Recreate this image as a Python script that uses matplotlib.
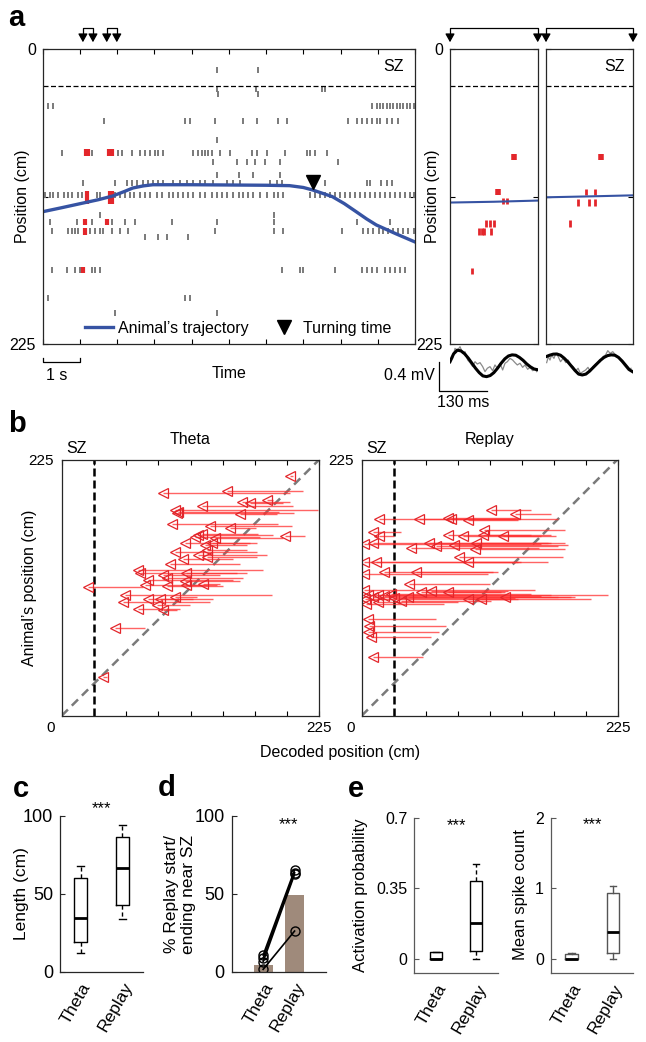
import numpy as np
import matplotlib.pyplot as plt
import matplotlib.transforms as mtransforms
from matplotlib.lines import Line2D

plt.rcParams['font.family'] = ['Liberation Sans', 'DejaVu Sans']
plt.rcParams['font.size'] = 11.5
plt.rcParams['axes.edgecolor'] = '#262626'
plt.rcParams['axes.linewidth'] = 0.9

SZ = 28.125  # start zone boundary (cm)

# ---- panel a: spike raster (time s, field position cm) ----
raster_rows = [16, 30, 34, 43, 54.5, 69, 79, 86, 96, 102, 111, 126.5, 132, 139, 143, 168.5, 190, 201]
raster_times = [
    [4.69, 5.79],
    [4.67, 5.74, 7.49, 7.58],
    [4.72, 5.79],
    [0.15, 0.29, 8.84, 8.97, 9.06, 9.15, 9.24, 9.33, 9.42, 9.51, 9.6, 9.69, 9.78, 9.87, 9.96],
    [1.65, 3.82, 3.96, 4.63, 5.39, 5.75, 6.33, 6.55, 8.21, 8.43, 8.57, 8.70, 8.84, 8.97, 9.06, 9.24, 9.37, 9.55],
    [4.69],
    [0.51, 1.32, 2.03, 2.12, 2.39, 2.61, 2.75, 2.88, 3.02, 3.11, 3.24, 4.05, 4.18, 4.27, 4.36, 4.45, 4.54,
     4.76, 5.03, 5.61, 5.75, 6.02, 6.51, 7.09, 7.18, 7.31, 7.63],
    [4.58, 5.21, 5.48, 5.70, 5.97, 6.37, 7.94],
    [4.69, 5.26, 5.66, 6.37],
    [1.07, 1.94, 2.26, 2.39, 2.52, 2.70, 2.84, 2.97, 3.11, 3.24, 3.51, 3.69, 3.87, 4.05, 4.23, 4.36, 4.58,
     4.94, 5.12, 5.30, 6.11, 6.28, 6.42, 7.58, 8.70, 8.79, 9.10, 9.24, 9.37],
    [0.06, 0.20, 0.29, 0.42, 0.56, 0.69, 0.78, 0.96, 1.05, 1.45, 1.54, 1.94, 2.08, 2.21, 2.35, 2.44, 2.61,
     2.75, 2.88, 3.06, 3.20, 3.38, 3.51, 3.64, 3.78, 3.91, 4.05, 4.23, 4.36, 4.54, 4.67, 4.81, 4.94, 5.12,
     5.26, 5.39, 5.52, 5.66, 5.84, 6.02, 6.20, 6.33, 6.46, 7.18, 7.31, 7.45, 7.58, 7.72, 7.85, 7.99, 8.12,
     8.25, 8.39, 8.52, 8.66, 8.79, 8.93, 9.06, 9.19, 9.33, 9.46, 9.60, 9.73, 9.87, 9.96],
    [1.54, 6.20],
    [0.20, 0.91, 1.32, 1.85, 2.21, 2.48, 3.46, 4.67, 6.20, 8.43, 9.33],
    [0.24, 0.69, 0.78, 0.87, 0.96, 1.27, 1.41, 1.54, 1.63, 1.85, 2.08, 2.30, 4.63, 6.20, 6.46, 8.03, 8.61,
     8.75, 8.88, 9.02, 9.15, 9.28, 9.42, 9.55, 9.69, 9.82, 9.96],
    [2.75, 3.11, 3.33, 3.91],
    [0.24, 0.64, 0.87, 1.00, 1.32, 1.41, 1.54, 6.42, 6.91, 7.00, 7.85, 8.57, 8.70, 8.84, 8.97, 9.19, 9.33,
     9.46, 9.60, 9.73],
    [0.15, 3.82, 3.96],
    [1.94, 4.69],
]
red_rows = [79, 113, 132, 139, 168.5]
red_times = [[1.15, 1.22, 1.79, 1.86], [1.18, 1.82, 1.86], [1.14, 1.72], [1.14], [1.09]]
red_len = [5, 10, 5, 5, 5]

traj_t = [0, 0.5, 1.08, 1.5, 1.88, 2.2, 2.42, 2.7, 2.96, 4, 5, 6, 6.63, 7.0, 7.25, 7.5, 7.78, 8.1,
          8.42, 8.7, 8.96, 9.5, 10]
traj_pos = [124, 121, 117.4, 114.8, 112, 108.5, 105.9, 104.3, 103.4, 103.4, 103.6, 103.8, 104.1, 105.5,
            107.4, 109.8, 112.5, 117.8, 124, 129.5, 134.1, 141, 147.1]
turn_t, turn_pos = 7.25, 101.5
seq_windows = [(1.08, 1.35), (1.72, 1.99)]

# ---- panel a, right: two sequences (time ms) ----
seqA_rows = [82, 109, 116, 133, 139, 169]
seqA_times = [[175], [132], [146, 157], [98, 109, 121], [79, 87, 94, 112], [61]]
seqA_lw = [4, 4, 2, 2, 2, 2]
seqA_traj = [117, 116.4, 115.5]
seqB_rows = [82, 109, 117, 133]
seqB_times = [[150.5], [111, 134], [88, 118.5, 134], [66.5]]
seqB_lw = [4, 2, 2, 2]
seqB_traj = [113, 112.3, 111.5]
seq_traj_t = [0, 120, 240]

lfp_t = [0, 10, 20, 30, 40, 50, 60, 70, 80, 90, 100, 110, 120, 130, 140, 150, 160, 170, 180, 190, 200,
         210, 220, 230, 240]
lfpA_theta = [0.01, 0.12, 0.17, 0.16, 0.12, 0.06, -0.01, -0.08, -0.14, -0.185, -0.195, -0.18, -0.14,
              -0.08, -0.01, 0.05, 0.09, 0.105, 0.10, 0.07, 0.03, -0.02, -0.06, -0.09, -0.10]
lfpB_theta = [0.08, 0.10, 0.115, 0.117, 0.10, 0.06, 0.01, -0.05, -0.11, -0.16, -0.172, -0.16, -0.12,
              -0.07, -0.02, 0.03, 0.07, 0.095, 0.105, 0.10, 0.07, 0.02, -0.04, -0.10, -0.13]
lfpA_raw_t = [0, 7.3, 13.7, 20.1, 27.4, 34.7, 41.0, 48.3, 54.7, 62.0, 68.4, 74.8, 82.1, 89.4, 95.8, 102.1,
              109.4, 116.7, 123.1, 129.5, 136.8, 144.1, 150.5, 156.9, 164.2, 171.4, 177.8, 184.2, 191.5,
              198.8, 205.2, 212.5, 218.9, 226.2, 232.6, 237.1]
lfpA_raw = [0.011, 0.057, 0.195, 0.163, 0.218, 0.126, 0.149, 0.034, -0.002, -0.057, 0.011, -0.021, -0.002,
            -0.057, -0.126, -0.080, -0.057, -0.113, -0.034, -0.080, -0.011, -0.103, -0.011, 0.011, 0.057,
            0.034, -0.002, -0.034, -0.011, -0.067, -0.034, -0.094, -0.067, -0.113, -0.080, -0.126]
lfpB_raw_t = [1.8, 6.4, 11.0, 15.5, 21.9, 27.4, 33.7, 40.1, 47.4, 54.7, 61.1, 67.5, 74.8, 82.1, 88.5, 94.9,
              102.1, 109.4, 115.8, 122.2, 129.5, 136.8, 143.2, 149.6, 156.9, 164.2, 170.5, 176.9, 184.2,
              191.5, 197.9, 204.2, 211.5, 218.8, 226.1, 234.4]
lfpB_raw = [-0.002, 0.080, 0.034, 0.103, 0.057, 0.126, 0.080, 0.011, 0.057, -0.002, 0.034, -0.034, -0.057,
            -0.113, -0.080, -0.149, -0.126, -0.103, -0.067, -0.126, -0.057, -0.021, -0.002, 0.011, 0.080,
            0.103, 0.163, 0.126, 0.149, 0.103, 0.080, 0.034, -0.011, -0.057, -0.103, -0.080]

# ---- panel b: decoded trajectories (animal position, start, end) ----
theta_y = [210.9, 195.3, 197.7, 184.5, 188, 187, 189.4, 181, 177.7, 178.6, 176.8, 168, 166.5, 165, 158,
           157, 158.6, 159.8, 156.2, 152.1, 152.1, 149.8, 143.9, 145.4, 141, 139.5, 137.4, 133.6, 127.8,
           125.7, 124, 125.7, 121, 119, 118, 116, 113, 115.1, 114, 114.5, 105.7, 102.8, 99.9, 102.2,
           104.3, 96.9, 93.4, 92.5, 77.2, 34.4]
theta_start = [202, 199.4, 211, 202.3, 199.4, 193.5, 184.8, 224, 203, 190, 187.7, 189, 200.8, 170, 212.4,
               173, 184.8, 171.7, 193.5, 164.4, 170.2, 161.5, 170.2, 161.5, 179, 170.2, 150, 155.7, 176,
               152.7, 138.2, 161.5, 158.6, 150, 155.7, 138.2, 71.3, 126.6, 141, 135.3, 183.3, 132.4,
               129.5, 115, 117.9, 112, 103.3, 100.4, 72.7, 39.3]
theta_end = [199.4, 88.8, 144, 122.2, 157.2, 164.4, 179, 99, 100.4, 101.9, 155.7, 96, 129.5, 147, 195,
             116.4, 119.3, 122.2, 134, 107.7, 131, 125, 99, 126.6, 119.3, 126.6, 106.2, 94.6, 66.9, 68.4,
             88.8, 109, 91.7, 75.6, 107.7, 123.7, 23.3, 72.7, 91.7, 109, 55.3, 75.6, 53.8, 85.8, 99, 83,
             66.9, 88.8, 46.6, 36.4]

replay_y = [181, 177.3, 172.9, 172.9, 173.5, 172.9, 172.3, 161.2, 158.2, 163.5, 158.8, 157.6, 157.6,
            158.8, 150.9, 151.8, 147.1, 151.8, 149.4, 150, 151.8, 146.5, 139.2, 135.4, 135.4, 135.4,
            124.5, 126.6, 126.6, 115.7, 110.1, 108.7, 109.3, 108.7, 105.7, 104.3, 106.3, 105.1, 107.2,
            103.4, 102.2, 102.2, 98.4, 99.9, 100.4, 102.8, 104.3, 104.3, 85, 79.1, 73.3, 68.9, 51.3]
replay_start = [149.2, 166.8, 172.7, 139, 137.4, 134.5, 137.4, 34.7, 28.8, 178.6, 166.8, 171.2, 157.6,
                149.2, 158, 178.6, 155.6, 166.8, 172.7, 181.5, 163.9, 178.6, 177.1, 163.9, 140.4, 137.4,
                111, 119.8, 115.4, 112.5, 152.1, 125.7, 128.6, 122.8, 216.8, 187.4, 166.8, 158, 149.2,
                134.5, 131.6, 137.4, 72.8, 84.6, 114, 202.1, 172.7, 184.4, 65.5, 74.3, 68.4, 61, 53.7]
replay_end = [114, 134.5, 15.6, 50.8, 75.8, 78.7, 93.4, 9.7, 15.6, 108, 75.8, 89, 124.2, 106.6, 1.8, 9.7,
              43.5, 59.6, 65.5, 81.6, 100.7, 99.3, 86, 93.4, 1.8, 12.6, 2.3, 19.4, 47.9, 42, 1.8, 52.3,
              61.1, 75.8, 5.3, 9.7, 14.1, 20, 25.8, 28.8, 93.4, 105.1, 3.8, 14.1, 34.7, 2.9, 40.5, 125.7,
              5.3, 6.8, 5.3, 8.2, 9.7]

# ---- panels c-e ----
groups = ['Theta', 'Replay']
length_theta = [11.8, 18.9, 34.7, 60.0, 67.9]   # whislo, q1, med, q3, whishi
length_replay = [33.8, 42.8, 66.4, 86.7, 94.2]
sz_bar = [4.3, 49.3]
sz_theta_pts = [10.7, 8.6, 6.4, 1.5]
sz_replay_pts = [65.3, 63.6, 62.5, 26.1]
act_theta = [0, 0, 0, 0.033, 0.033]
act_replay = [0, 0.042, 0.181, 0.387, 0.47]
spk_theta = [0, 0, 0, 0.07, 0.09]
spk_replay = [0, 0.085, 0.39, 0.94, 1.03]

RED = '#e3262b'
BLUE = '#3653a3'
GREY = '#7a7a7a'

W, H = 646, 1042
fig = plt.figure(figsize=(W / 100, H / 100), dpi=100)


def add_ax(l, t, r, b):
    return fig.add_axes([l / W, 1 - b / H, (r - l) / W, (b - t) / H])


def ftext(x, y, s, **kw):
    fig.text(x / W, 1 - y / H, s, **kw)


def bracket(ax, t0, t1):
    tr = mtransforms.blended_transform_factory(ax.transData, ax.transAxes)
    ax.plot([t0, t0, t1, t1], [1.04, 1.071, 1.071, 1.04], color='k', lw=0.9,
            transform=tr, clip_on=False)
    for t in (t0, t1):
        ax.annotate('', xy=(t, 1.024), xytext=(t, 1.045), xycoords=tr, textcoords=tr,
                    arrowprops=dict(arrowstyle='-|>,head_length=0.5,head_width=0.28', color='k',
                                    lw=0.9, mutation_scale=10, shrinkA=0, shrinkB=0))


# ================= a: main raster =================
ax = add_ax(42.7, 49.3, 415, 344)
ax.eventplot(raster_times, lineoffsets=raster_rows, linelengths=4.5, colors=GREY, linewidths=1.4)
ax.eventplot(red_times, lineoffsets=red_rows, linelengths=red_len, colors=RED, linewidths=3)
ax.axhline(SZ, color='k', lw=0.9, ls=(0, (4, 2)))
ax.plot(traj_t, traj_pos, color=BLUE, lw=2.4)
ax.plot([turn_t], [turn_pos], ls='none', marker='v', ms=10, color='k')
ax.set_xlim(0, 10)
ax.set_ylim(225, 0)
ax.set_xticks(np.arange(0, 11))
ax.set_xticklabels([])
ax.set_yticks([0, 112.5, 225])
ax.set_yticklabels(['0', '', '225'])
ax.tick_params(direction='in', top=True, right=True, length=3.5, pad=5)
ax.text(0.97, 0.94, 'SZ', transform=ax.transAxes, ha='right', va='center')
handles = [Line2D([], [], color=BLUE, lw=2.4),
           Line2D([], [], ls='none', marker='v', ms=10, color='k')]
ax.legend(handles, ['Animal’s trajectory', 'Turning time'], loc='lower center',
          bbox_to_anchor=(0.525, 0.0), ncol=2, frameon=False, handlelength=1.75,
          handletextpad=0.35, columnspacing=1.3, borderaxespad=0.1)
for t0, t1 in seq_windows:
    bracket(ax, t0, t1)
# 1 s scale bar
ax.plot([0, 0, 1, 1], [235.7, 238.5, 238.5, 235.7], color='k', lw=0.9, clip_on=False)
ax.text(0.38, 248.7, '1 s', ha='center', va='center')
ax.text(0.5, -0.1, 'Time', transform=ax.transAxes, ha='center', va='center')
ftext(23, 196.5, 'Position (cm)', rotation=90, ha='center', va='center')

# ================= a: sequences =================
axA = add_ax(450, 49.3, 537.7, 344)
axB = add_ax(546, 49.3, 633, 344)
for axs, rows, times, lws, traj in [(axA, seqA_rows, seqA_times, seqA_lw, seqA_traj),
                                    (axB, seqB_rows, seqB_times, seqB_lw, seqB_traj)]:
    axs.eventplot(times, lineoffsets=rows, linelengths=4.8, colors=RED, linewidths=lws)
    axs.axhline(SZ, color='k', lw=0.9, ls=(0, (4, 2)))
    axs.plot(seq_traj_t, traj, color=BLUE, lw=1.5)
    axs.set_xlim(0, 240)
    axs.set_ylim(225, 0)
    axs.set_xticks([])
    axs.set_yticks([0, 112.5, 225])
    axs.set_yticklabels([])
    axs.tick_params(direction='in', right=True, length=3.5, pad=5)
    bracket(axs, 0, 240)
axA.set_yticklabels(['0', '', '225'])
axB.text(0.9, 0.94, 'SZ', transform=axB.transAxes, ha='right', va='center')
ftext(433, 196.5, 'Position (cm)', rotation=90, ha='center', va='center')

# LFP traces
for l, r, tt, th, rt, rw in [(450, 537.7, lfp_t, lfpA_theta, lfpA_raw_t, lfpA_raw),
                             (546, 633, lfp_t, lfpB_theta, lfpB_raw_t, lfpB_raw)]:
    axl = add_ax(l, 345, r, 395)
    axl.plot(rt, rw, color='#8a8a8a', lw=0.9)
    axl.plot(tt, th, color='k', lw=2.2)
    axl.set_xlim(0, 240)
    axl.set_ylim(-0.448, 0.241)
    axl.axis('off')
    if l == 450:
        axl.plot([-30, -30, 100.4], [0.011, -0.389, -0.389], color='k', lw=0.9, clip_on=False)
        axl.text(-41, -0.186, '0.4 mV', ha='right', va='center')
        axl.text(35.6, -0.545, '130 ms', ha='center', va='center')

# ================= b =================
axT = add_ax(61.7, 459.5, 319.3, 715.7)
axR = add_ax(361.7, 459.5, 617.5, 715.7)
for axb, ys, st, en, ttl in [(axT, theta_y, theta_start, theta_end, 'Theta'),
                             (axR, replay_y, replay_start, replay_end, 'Replay')]:
    axb.plot([0, 225], [0, 225], color=GREY, lw=1.8, ls=(0, (3.5, 2.2)))
    axb.axvline(SZ, color='k', lw=1.8, ls=(0, (3.2, 1.6)))
    axb.hlines(ys, en, st, color='#ff3030', lw=1.0, alpha=0.75)
    axb.plot(en, ys, ls='none', marker='<', ms=6.5, mfc='none', mec=RED, mew=0.9)
    axb.set_xlim(0, 225)
    axb.set_ylim(0, 225)
    axb.set_xticks(np.linspace(0, 225, 9))
    axb.set_xticklabels([''] * 8 + ['225'])
    axb.set_yticks([225])
    axb.set_yticklabels(['225'])
    axb.tick_params(axis='x', direction='in', top=True, length=3.5, pad=4, labelsize=11)
    axb.tick_params(axis='y', length=0, pad=6, labelsize=11)
    axb.text(-0.044, -0.048, '0', transform=axb.transAxes, ha='center', va='center', fontsize=11)
    axb.text(0.5, 1.08, ttl, transform=axb.transAxes, ha='center', va='center')
    axb.text(SZ - 14.8, 1.041, 'SZ', transform=mtransforms.blended_transform_factory(
        axb.transData, axb.transAxes), ha='center', va='center')
ftext(30, 587.6, 'Animal’s position (cm)', rotation=90, ha='center', va='center')
ftext(339.6, 752, 'Decoded position (cm)', ha='center', va='center')


# ================= c, d, e =================
def style_small(axs, spine_col):
    for s in ('top', 'right'):
        axs.spines[s].set_visible(False)
    for s in ('left', 'bottom'):
        axs.spines[s].set_color(spine_col)
    axs.set_xticks([1, 2])
    axs.set_xticklabels(groups, rotation=60, ha='right', rotation_mode='anchor')
    axs.tick_params(axis='x', length=0, pad=6, labelsize=12.5)
    axs.tick_params(axis='y', direction='in', length=3.5, pad=5, color=spine_col)


def boxes(axs, a, b, width, col, ls):
    stats = [dict(zip(['whislo', 'q1', 'med', 'q3', 'whishi'], v)) for v in (a, b)]
    axs.bxp(stats, positions=[1, 2], widths=width, capwidths=width * 0.5, showfliers=False,
            boxprops=dict(color=col, lw=1), whiskerprops=dict(color=col, lw=1, ls=ls),
            capprops=dict(color=col, lw=1), medianprops=dict(color='k', lw=2))


axc = add_ax(60, 816, 143.3, 971.7)
boxes(axc, length_theta, length_replay, 0.32, 'k', (0, (3, 2)))
axc.set_xlim(0.5, 2.5)
axc.set_ylim(0, 100)
axc.set_yticks([0, 50, 100])
style_small(axc, '#262626')
axc.tick_params(axis='y', labelsize=13)
axc.text(1.5, 104.9, '***', ha='center', va='center', fontsize=12)
ftext(22, 894, 'Length (cm)', rotation=90, ha='center', va='center', fontsize=12.5)

axd = add_ax(231.7, 816, 326, 971.7)
axd.bar([1, 2], sz_bar, width=0.6, color='#9f8a7b')
for a, b in zip(sz_theta_pts, sz_replay_pts):
    axd.plot([1, 2], [a, b], color='k', lw=1.2, marker='o', ms=6.5, mfc='none', mew=1)
axd.set_xlim(0, 3)
axd.set_ylim(0, 100)
axd.set_yticks([0, 50, 100])
style_small(axd, '#262626')
axd.tick_params(axis='y', labelsize=13)
axd.text(1.8, 94.6, '***', ha='center', va='center', fontsize=12)
ftext(180, 894, '% Replay start/\nending near SZ', rotation=90, ha='center', va='center',
      fontsize=12.5, linespacing=1.1)

axe1 = add_ax(414.3, 817.7, 498.3, 973.3)
boxes(axe1, act_theta, act_replay, 0.3, 'k', (0, (3, 2)))
axe1.set_xlim(0.45, 2.55)
axe1.set_ylim(-0.07, 0.7)
axe1.set_yticks([0, 0.35, 0.7])
axe1.set_yticklabels(['0', '0.35', '0.7'])
style_small(axe1, '#595959')
axe1.tick_params(axis='y', labelsize=11.5)
axe1.text(1.5, 0.663, '***', ha='center', va='center', fontsize=12)
ftext(360, 895, 'Activation probability', rotation=90, ha='center', va='center', fontsize=12)

axe2 = add_ax(551, 817.7, 633.3, 973.3)
boxes(axe2, spk_theta, spk_replay, 0.3, '#555555', '-')
axe2.set_xlim(0.5, 2.5)
axe2.set_ylim(-0.2, 2)
axe2.set_yticks([0, 1, 2])
style_small(axe2, '#595959')
axe2.tick_params(axis='y', labelsize=11.5)
axe2.text(1.5, 1.9, '***', ha='center', va='center', fontsize=12)
ftext(521, 895, 'Mean spike count', rotation=90, ha='center', va='center', fontsize=12)

# panel letters
for x, y, s in [(8, 17.5, 'a'), (8, 424, 'b'), (13, 789, 'c'), (158, 788, 'd'), (348, 789, 'e')]:
    ftext(x, y, s, fontsize=21, fontweight='bold', ha='left', va='center')

fig.savefig('out.png', dpi=100)
